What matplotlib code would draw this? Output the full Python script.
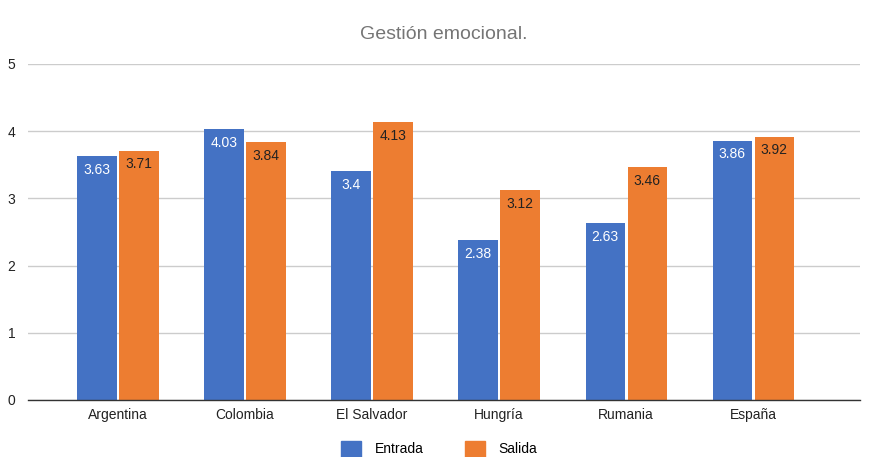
import matplotlib.pyplot as plt
import numpy as np
from matplotlib.patches import Patch

plt.rcParams['font.family'] = ['Liberation Sans', 'DejaVu Sans']

countries = ['Argentina', 'Colombia', 'El Salvador', 'Hungría', 'Rumania', 'España']
entrada = [3.63, 4.03, 3.4, 2.38, 2.63, 3.86]
salida = [3.71, 3.84, 4.13, 3.12, 3.46, 3.92]
entrada_labels = ['3.63', '4.03', '3.4', '2.38', '2.63', '3.86']
salida_labels = ['3.71', '3.84', '4.13', '3.12', '3.46', '3.92']

blue = '#4472C4'
orange = '#ED7D31'

fig = plt.figure(figsize=(8.7, 4.57), dpi=100)
ax = fig.add_axes([0.032, 0.125, 0.957, 0.735])

x = np.arange(len(countries))
w = 0.31
b1 = ax.bar(x - 0.165, entrada, w, color=blue, zorder=3)
b2 = ax.bar(x + 0.165, salida, w, color=orange, zorder=3)

for rect, lab in zip(b1, entrada_labels):
    ax.text(rect.get_x() + rect.get_width() / 2, rect.get_height() - 0.1, lab,
            ha='center', va='top', color='white', fontsize=10, zorder=4)
for rect, lab in zip(b2, salida_labels):
    ax.text(rect.get_x() + rect.get_width() / 2, rect.get_height() - 0.1, lab,
            ha='center', va='top', color='#222222', fontsize=10, zorder=4)

ax.set_xlim(-0.709, 5.843)
ax.set_ylim(0, 5)
ax.set_yticks([0, 1, 2, 3, 4, 5])
ax.set_xticks(x)
ax.set_xticklabels(countries, fontsize=10, color='#222222')
ax.tick_params(axis='y', labelsize=10, colors='#222222', length=0, pad=9)
ax.tick_params(axis='x', length=0, pad=6)
ax.yaxis.grid(True, color='#cccccc', linewidth=1, zorder=0)
for s in ['top', 'right', 'left']:
    ax.spines[s].set_visible(False)
ax.spines['bottom'].set_color('#333333')
ax.spines['bottom'].set_linewidth(1)
ax.spines['bottom'].set_zorder(5)

fig.text(0.51, 0.925, 'Gestión emocional.', ha='center', va='center',
         fontsize=14, color='#757575')

handles = [Patch(color=blue, label='Entrada'), Patch(color=orange, label='Salida')]
fig.legend(handles=handles, loc='center', bbox_to_anchor=(0.505, 0.018), ncol=2,
           frameon=False, fontsize=10, handlelength=1.4, handleheight=1.4,
           columnspacing=3, handletextpad=1)

plt.savefig('out.png', dpi=100)
